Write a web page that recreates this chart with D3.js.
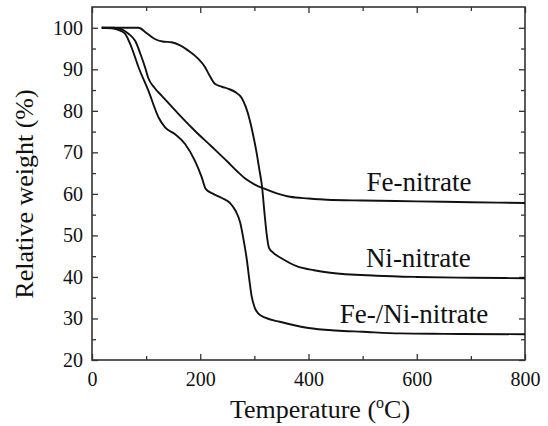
<!DOCTYPE html>
<html>
<head>
<meta charset="utf-8">
<script src="https://cdn.jsdelivr.net/npm/d3@7"></script>
<style>
body { margin: 0; background: #fff; }
text { font-family: "Liberation Serif", "Times New Roman", serif; fill: #111; }
</style>
</head>
<body>
<div class="visHolder"></div>
<script>
// readings (temperature in C, weight in %)
var feTemp = [18, 40, 55, 68, 80, 90, 98, 104, 115, 129, 160, 190, 221, 250, 270, 285, 300, 317, 340, 366, 400, 434, 500, 600, 700, 800];
var feWeight = [100, 100, 99.6, 98.5, 96.8, 93.5, 90.5, 87.9, 85.6, 83.6, 79.2, 75.2, 71.4, 67.8, 65.2, 63.5, 62.3, 61.3, 60.2, 59.3, 58.9, 58.6, 58.4, 58.2, 58, 57.8];

var niTemp = [18, 60, 86, 100, 116, 130, 147, 162, 178, 195, 209, 218, 227, 240, 252, 265, 276, 284, 292, 298, 304, 309, 314, 319, 323, 327, 335, 350, 378, 410, 440, 526, 600, 700, 800];
var niWeight = [100, 100, 100, 98.8, 97.3, 96.7, 96.5, 95.8, 94.5, 92.7, 90.5, 88.3, 86.5, 85.8, 85.3, 84.5, 83.2, 81, 77.5, 74, 70, 66, 61.9, 55, 50, 47, 45.8, 44.5, 42.6, 41.6, 41, 40.3, 40, 39.8, 39.7];

var mixTemp = [18, 40, 52, 61, 73, 86, 104, 123, 135, 153, 172, 190, 203, 210, 224, 240, 255, 265, 274, 280, 286, 291, 295, 301, 307, 320, 347, 400, 450, 500, 569, 650, 800];
var mixWeight = [100, 99.8, 99.3, 98.6, 95.3, 90.5, 84.9, 78.4, 76, 74.4, 72, 68, 63.9, 61.2, 60, 59, 57.8, 56, 53, 49, 44.2, 39, 35.3, 32.5, 31.2, 30.2, 29.2, 27.7, 27.1, 26.8, 26.4, 26.3, 26.2];

var seriesNames = ["Fe-nitrate", "Ni-nitrate", "Fe-/Ni-nitrate"];
var labelAt = [[604, 60.7], [603, 42.5], [595, 28.8]];

var xMajor = [0, 200, 400, 600, 800];
var xMinor = [100, 300, 500, 700];
var yMajor = [20, 30, 40, 50, 60, 70, 80, 90, 100];
var yMinor = [25, 35, 45, 55, 65, 75, 85, 95];

var plotLeft = 92, plotTop = 7, plotRight = 525, plotBottom = 360;

var svg = d3.select(".visHolder").append("svg")
  .attr("width", 548)
  .attr("height", 426);

var xScale = d3.scaleLinear().domain([0, 800]).range([plotLeft, plotRight]);
var yScale = d3.scaleLinear().domain([20, 105]).range([plotBottom, plotTop]);

var frame = "#333";
var serif = '"Liberation Serif", "Times New Roman", serif';

function axisGroup(axis, tr) {
  var g = svg.append("g").attr("transform", tr).call(axis)
    .attr("font-family", serif)
    .attr("font-size", 20);
  g.select(".domain").remove();
  g.selectAll("line").attr("stroke", frame).attr("stroke-width", 1.3);
  g.selectAll("text").attr("fill", "#111");
  return g;
}

// minor ticks
axisGroup(d3.axisBottom(xScale).tickValues(xMinor).tickSize(-4).tickFormat(""), "translate(0," + plotBottom + ")");
axisGroup(d3.axisTop(xScale).tickValues(xMinor).tickSize(-4).tickFormat(""), "translate(0," + plotTop + ")");
axisGroup(d3.axisLeft(yScale).tickValues(yMinor).tickSize(-4).tickFormat(""), "translate(" + plotLeft + ",0)");
axisGroup(d3.axisRight(yScale).tickValues(yMinor).tickSize(-4).tickFormat(""), "translate(" + plotRight + ",0)");

// major ticks
var xAxisGroup = axisGroup(d3.axisBottom(xScale).tickValues(xMajor).tickSize(-6).tickFormat(d3.format("d")), "translate(0," + plotBottom + ")");
xAxisGroup.selectAll("text").attr("y", 12).attr("dy", "0.71em");
axisGroup(d3.axisTop(xScale).tickValues(xMajor).tickSize(-6).tickFormat(""), "translate(0," + plotTop + ")");
axisGroup(d3.axisLeft(yScale).tickValues(yMajor).tickSize(-6).tickPadding(9).tickFormat(d3.format("d")), "translate(" + plotLeft + ",0)");
axisGroup(d3.axisRight(yScale).tickValues(yMajor).tickSize(-6).tickFormat(""), "translate(" + plotRight + ",0)");

svg.append("rect")
  .attr("x", plotLeft)
  .attr("y", plotTop)
  .attr("width", plotRight - plotLeft)
  .attr("height", plotBottom - plotTop)
  .attr("fill", "none")
  .attr("stroke", frame)
  .attr("stroke-width", 1.6);

var line = d3.line()
  .x(function(d) { return xScale(d[0]); })
  .y(function(d) { return yScale(d[1]); })
  .curve(d3.curveMonotoneX);

var allSeries = [
  d3.zip(feTemp, feWeight),
  d3.zip(niTemp, niWeight),
  d3.zip(mixTemp, mixWeight)
];

svg.selectAll("path.curve")
  .data(allSeries)
  .enter()
  .append("path")
  .attr("class", "curve")
  .attr("d", line)
  .attr("fill", "none")
  .attr("stroke", "#111")
  .attr("stroke-width", 1.9);

svg.selectAll("text.label")
  .data(seriesNames)
  .enter()
  .append("text")
  .attr("class", "label")
  .attr("x", function(d, i) { return xScale(labelAt[i][0]); })
  .attr("y", function(d, i) { return yScale(labelAt[i][1]); })
  .attr("text-anchor", "middle")
  .style("font-size", "27px")
  .text(function(d) { return d; });

svg.append("text")
  .attr("transform", "rotate(-90)")
  .attr("x", -194)
  .attr("y", 33)
  .attr("text-anchor", "middle")
  .style("font-size", "26px")
  .text("Relative weight (%)");

var xTitle = svg.append("text")
  .attr("x", 320)
  .attr("y", 418)
  .attr("text-anchor", "middle")
  .style("font-size", "26px");
xTitle.append("tspan").text("Temperature (");
xTitle.append("tspan").attr("dy", -10).style("font-size", "16px").text("o");
xTitle.append("tspan").attr("dy", 10).text("C)");
</script>
</body>
</html>
